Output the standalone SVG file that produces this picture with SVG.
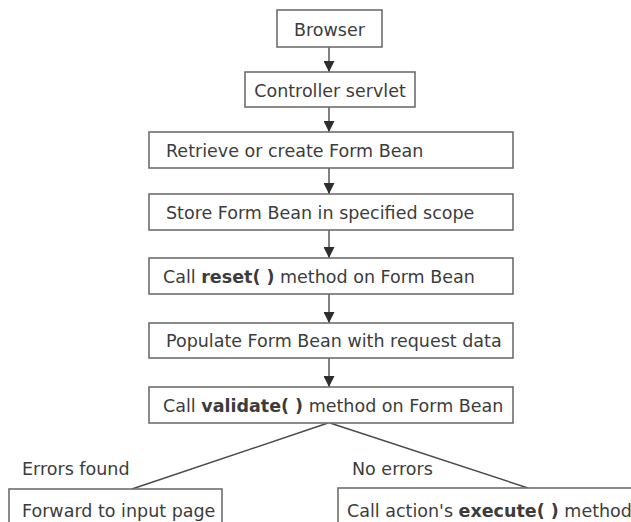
<svg xmlns="http://www.w3.org/2000/svg" width="631" height="522" viewBox="0 0 631 522">
<style>
.box{fill:#fff;stroke:#6e6e6e;stroke-width:1.6}
.t{font-family:"DejaVu Sans",sans-serif;font-size:17.5px;fill:#3c3c3c}
.b{font-weight:bold}
.c{stroke:#4a4a4a;stroke-width:1.4;fill:none}
</style>
<defs>
<marker id="ah" markerWidth="11" markerHeight="11" refX="11" refY="5.5" orient="auto" markerUnits="userSpaceOnUse">
<path d="M0,0 L11,5.5 L0,11 Z" fill="#2e2e2e"/>
</marker>
</defs>
<rect width="631" height="522" fill="#fff"/>
<g id="connectors">
<line class="c" x1="329" y1="47" x2="329" y2="72" marker-end="url(#ah)"/>
<line class="c" x1="329" y1="107" x2="329" y2="132" marker-end="url(#ah)"/>
<line class="c" x1="329" y1="168" x2="329" y2="194" marker-end="url(#ah)"/>
<line class="c" x1="329" y1="230" x2="329" y2="258" marker-end="url(#ah)"/>
<line class="c" x1="329" y1="294" x2="329" y2="323" marker-end="url(#ah)"/>
<line class="c" x1="329" y1="358" x2="329" y2="387" marker-end="url(#ah)"/>
<line class="c" x1="328" y1="423" x2="132" y2="489"/>
<line class="c" x1="330" y1="423" x2="528" y2="488"/>
</g>
<g id="browser">
<rect class="box" x="277" y="10" width="105" height="37"/>
<text class="t" x="329.5" y="36" text-anchor="middle">Browser</text>
</g>
<g id="controller">
<rect class="box" x="245" y="72" width="170" height="35"/>
<text class="t" x="330" y="97" text-anchor="middle">Controller servlet</text>
</g>
<g id="retrieve">
<rect class="box" x="149" y="132" width="364" height="36"/>
<text class="t" x="166" y="157">Retrieve or create Form Bean</text>
</g>
<g id="store">
<rect class="box" x="149" y="194" width="364" height="36"/>
<text class="t" x="166" y="219">Store Form Bean in specified scope</text>
</g>
<g id="reset">
<rect class="box" x="149" y="258" width="364" height="36"/>
<text class="t" x="163" y="283">Call <tspan class="b">reset( )</tspan> method on Form Bean</text>
</g>
<g id="populate">
<rect class="box" x="149" y="323" width="364" height="35"/>
<text class="t" x="166" y="347">Populate Form Bean with request data</text>
</g>
<g id="validate">
<rect class="box" x="149" y="387" width="364" height="36"/>
<text class="t" x="163" y="412">Call <tspan class="b">validate( )</tspan> method on Form Bean</text>
</g>
<g id="errors-label">
<text class="t" x="22" y="475">Errors found</text>
</g>
<g id="noerrors-label">
<text class="t" x="352" y="475">No errors</text>
</g>
<g id="forward">
<rect class="box" x="9" y="489" width="213" height="45"/>
<text class="t" x="22" y="517">Forward to input page</text>
</g>
<g id="execute">
<rect class="box" x="338" y="488" width="310" height="46"/>
<text class="t" x="347" y="517">Call action's <tspan class="b">execute( )</tspan> method</text>
</g>
</svg>
